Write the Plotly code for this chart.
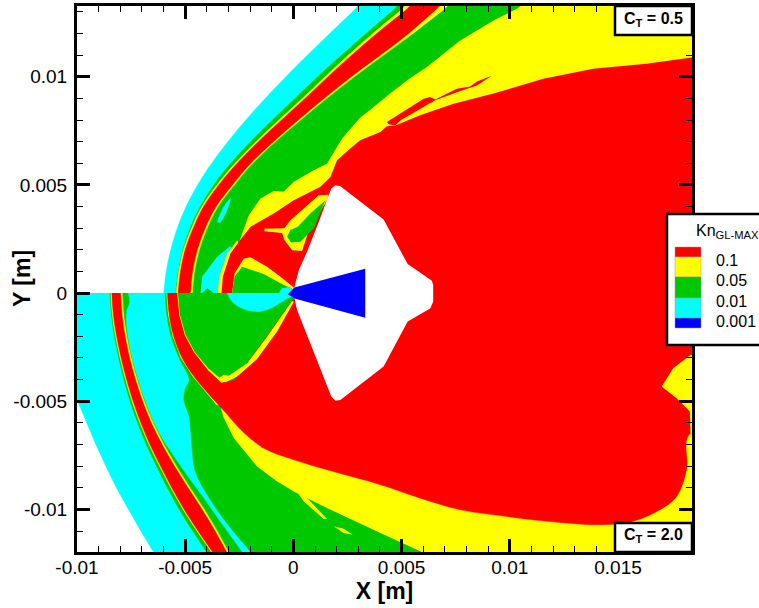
import plotly.graph_objects as go

RED, YELLOW, GREEN, CYAN, BLUE, WHITE = "#FF0000", "#FFFF00", "#00C800", "#00FFFF", "#0000FF", "#FFFFFF"

# All region outlines are in millimetres (x, y).
# ---- Upper half (C_T = 0.5) : bow shock bands, read at each millimetre of y
u_levels = [0, 1, 2, 3, 4, 5, 6, 7, 8, 9, 10, 11, 12, 13, 14]
u_cyan_x = [-5.99, -5.88, -5.67, -5.37, -4.96, -4.43, -3.78, -3.03, -2.20, -1.30, -0.35, 0.65, 1.68, 2.73, 3.80]
u_green_x = [-5.43, -5.32, -5.10, -4.77, -4.30, -3.68, -2.90, -1.98, -0.97, 0.08, 1.12, 2.23, 3.36, 4.53, 5.70]
u_yel1_x = [-5.41, -5.30, -5.08, -4.71, -4.23, -3.54, -2.70, -1.73, -0.67, 0.42, 1.46, 2.54, 3.67, 4.88, 6.10]
u_red_x = [-5.33, -5.22, -5.00, -4.63, -4.15, -3.45, -2.60, -1.62, -0.55, 0.55, 1.60, 2.70, 3.85, 5.10, 6.35]
u_yel2_x = [-4.74, -4.64, -4.42, -4.06, -3.55, -2.80, -1.95, -0.90, 0.25, 1.45, 2.70, 4.05, 5.35, 6.50, 7.70]
u_green2_x = [-4.65, -4.55, -4.33, -3.97, -3.46, -2.71, -1.86, -0.81, 0.36, 1.57, 2.84, 4.20, 5.55, 6.85, 8.10]

u_yellow_x = [11.09, 10.32, 9.25, 7.71, 6.17, 5.39, 4.47, 3.54, 3.09, 2.25, 1.55, 0.94, 0.02, -0.45, -0.91, -1.52, -2.06, -2.37, -2.52, -2.2, 25, 25]
u_yellow_y = [13.68, 13.14, 12.6, 11.68, 10.45, 9.93, 9.23, 8.46, 8.11, 7.14, 5.98, 5.68, 5.14, 4.68, 4.72, 4.37, 3.6, 2.75, 2.29, 0, 0, 15]
u_sliver_x = [-3.52, -3.22, -2.91, -3.14, -3.40]
u_sliver_y = [3.29, 3.98, 4.37, 3.66, 3.25]
u_blob_x = [-4.29, -4.22, -3.52, -2.91, -2.86, -3.22, -3.45, -3.34, -3.68, -3.98, -4.22]
u_blob_y = [0, 0.75, 1.68, 2.17, 2.06, 1.37, 0.45, 0, 0, 0.22, 0]
u_thin_x = [-3.49, -3.43, -3.06, -2.6, -2.5, -3.3]
u_thin_y = [0, 0.75, 1.83, 2.43, 2.3, 0]
u_main_x = [-3.32, -3.26, -2.91, -2.52, -1.98, -0.91, 0.02, 1.25, 1.71, 2.02, 2.63, 3.09, 4.02, 4.32, 4.71, 5.86, 7.40, 9.25, 11.55, 13.86, 16.32, 18.32, 19.4, 25, 25]
u_main_y = [0, 0.75, 1.83, 2.37, 3.06, 3.68, 4.29, 4.91, 5.37, 6.14, 6.68, 7.06, 7.45, 7.71, 7.75, 8.22, 8.75, 9.22, 9.91, 10.37, 10.6, 10.88, 10.98, 11, 0]
u_strip_x = [4.32, 6.02, 6.32, 6.55, 7.55, 8.17, 8.48, 9.17, 8.48, 7.71, 6.55, 4.94, 4.71, 4.4]
u_strip_y = [7.91, 8.98, 9.06, 8.95, 9.45, 9.55, 9.78, 10.05, 9.6, 9.34, 8.91, 7.98, 7.75, 7.8]
u_cap_x = [-2.83, -2.72, -2.29, -1.98, -1.22, -0.6, 0.02, 0.02]
u_cap_y = [0, 0.91, 1.6, 1.65, 1.22, 0.75, 0.26, 0]
u_lobe_x = [-2.83, -2.72, -2.37, -1.37, -0.6, -0.06, -0.06]
u_lobe_y = [0, 0.75, 1.22, 0.88, 0.45, 0.2, 0]
u_nose_x = [-0.68, -0.52, -0.14, 0.02]
u_nose_y = [0, 0.22, 0.29, 0.02]
u_isle_x = [-1.34, -0.42, -0.14, 0.48, 1.17, 1.63, 1.55, 0.71, 0.4, -0.06, -0.42, -0.52, -1.34]
u_isle_y = [2.97, 3.0, 3.37, 3.91, 4.52, 4.55, 4.29, 2.88, 1.95, 1.98, 2.45, 2.78, 2.86]
u_islegreen_x = [-0.29, -0.14, 0.2, 0.78, 1.48, 0.94, 0.32, -0.11]
u_islegreen_y = [2.6, 2.91, 3.06, 3.68, 4.29, 2.98, 2.37, 2.34]

# ---- Lower half (C_T = 2.0)
l_levels = [0, -1, -2, -3, -4, -5, -6, -7, -8, -9, -10, -11, -12, -13, -14]
l_edge_x = [-11.5, -11.2, -10.72, -10.38, -9.97, -9.55, -9.13, -8.67, -8.18, -7.62, -7.05, -6.45, -5.85, -5.2, 25, 25]
l_edge_y = [0, -2, -3, -4, -5, -6, -7, -8, -9, -10, -11, -12, -13, -14, -14.5, 0]
l_green_x = [-8.48, -8.41, -8.27, -8.07, -7.83, -7.55, -7.2, -6.8, -6.33, -5.83, -5.28, -4.66, -3.99, -3.3, -2.6]
l_yel1_x = [-8.44, -8.37, -8.22, -8.01, -7.76, -7.46, -7.1, -6.68, -6.19, -5.67, -5.1, -4.46, -3.77, -3.08, -2.38]
l_red_x = [-8.39, -8.32, -8.17, -7.96, -7.71, -7.41, -7.05, -6.63, -6.14, -5.62, -5.05, -4.41, -3.72, -3.03, -2.33]
l_yel2_x = [-7.97, -7.9, -7.76, -7.55, -7.28, -6.95, -6.55, -6.05, -5.48, -4.85, -4.2, -3.6, -3.05, -2.45, -1.85]
l_green2_x = [-7.89, -7.82, -7.68, -7.47, -7.2, -6.87, -6.46, -5.96, -5.39, -4.76, -4.1, -3.5, -2.96, -2.35, -1.75]
l_cyan2_x = [-7.64, -7.56, -7.71, -7.71, -7.56, -7.32, -7.02, -6.65, -6.18, -5.55, -4.85, -4.12, -3.42, -2.7, -1.98, -1.25]
l_cyan2_y = [0, -0.4, -0.86, -1.48, -2.5, -3.5, -4.5, -5.5, -6.5, -7.5, -8.5, -9.5, -10.5, -11.5, -12.5, -13.5]
l_body_x = [-5.93, -5.85, -5.66, -5.28, -4.82, -5.02, -5.05, -4.86, -4.79, -4.69, -4.54, -3.85, -2.85, -2.0, -0.15, 25, 25]
l_body_y = [0, -1, -2, -3, -4.02, -4.48, -5.02, -5.56, -5.94, -7.08, -8.24, -9.54, -10.93, -11.93, -14.2, -14.5, 0]
l_yband_x = [-3.5, -3.37, -3.22, -2.75, -1.68, -0.75, 0.02, 1.55, 4.02, 5.86, 6.63, 25, 25]
l_yband_y = [-5.14, -5.25, -5.78, -6.71, -8.02, -8.71, -9.17, -9.94, -11.09, -11.94, -12.4, -12.4, -5]
l_line_x = [-5.87, -5.79, -5.58, -5.2, -4.66, -3.99, -3.55, -3.4, -5.7]
l_line_y = [0, -1, -2, -3, -3.85, -4.64, -5.17, -5.2, 0]
l_main_x = [-5.82, -5.74, -5.53, -5.14, -4.6, -3.94, -3.49, -3.12, -2.35, -1.37, 0.02, 1.55, 4.02, 5.86, 7.71, 9.25, 11.71, 14.17, 15.71, 16.94, 17.71, 18.17, 18.35, 25, 25]
l_main_y = [0, -1, -2, -3, -3.85, -4.64, -5.14, -5.55, -6.4, -7.17, -7.71, -8.17, -8.86, -9.48, -10.02, -10.25, -10.55, -10.71, -10.55, -10.02, -9.4, -8.17, -6.48, -6.4, 0]
l_notch_x = [-1.68, -1.37, -1.45]
l_notch_y = [-6.78, -7.09, -7.17]
l_rim_x = [-5.37, -5.27, -5.02, -4.6, -3.94, -3.32, -3.0, -3.0]
l_rim_y = [0, -1.02, -1.94, -2.72, -3.57, -4.16, -4.0, 0]
l_lobe_x = [-5.34, -5.24, -4.98, -4.56, -3.94, -3.22, -2.75, -1.52, 0.02, 0.02]
l_lobe_y = [0, -1.02, -1.94, -2.72, -3.48, -4.09, -4.02, -2.4, -0.25, 0]
l_edgeyel_x = [-3.45, -3.22, -2.98, -2.14, -1.22, -0.06, 0.02, -0.75, -1.68, -2.6, -3.14, -3.32]
l_edgeyel_y = [-3.94, -3.78, -3.82, -3.25, -2.02, -0.37, -0.4, -1.78, -3.05, -3.86, -4.12, -4.09]
l_blob_x = [-3.06, -2.83, -2.29, -1.68, -1.06, -0.29, 0.02, 0.02]
l_blob_y = [0, -0.4, -0.74, -0.86, -0.71, -0.25, -0.09, 0]
l_fleck_x = [0.02, 0.71, 1.55, 1.4, 0.48]
l_fleck_y = [-8.98, -9.55, -10.45, -10.45, -9.63]
l_oval_x = [1.86, 2.32, 2.75, 2.32]
l_oval_y = [-10.78, -10.89, -11.17, -11.09]
l_patch_x = [18.35, 17.55, 17.02, 17.71, 18.32, 18.35, 25, 25]
l_patch_y = [-2.86, -3.48, -4.32, -4.86, -5.48, -6.48, -6.48, -2.8]

# ---- Vehicle
hull_x = [0.05, 0.25, 0.63, 1.17, 1.75, 1.94, 2.17, 4.17, 5.28, 6.4, 6.46, 6.46, 6.32, 5.28, 4.17, 2.17, 1.94, 1.75, 0.17, 0.05]
hull_y = [0.29, 1.06, 1.91, 3.29, 4.83, 4.98, 4.94, 3.4, 1.34, 0.57, 0.37, -0.4, -0.71, -1.32, -3.4, -4.94, -4.98, -4.78, -0.78, -0.25]
cone_x = [-0.26, 0.05, 3.32, 3.32, 0.05]
cone_y = [-0.05, 0.26, 1.12, -1.14, -0.25]

tick_vals_x = [-0.01, -0.005, 0, 0.005, 0.01, 0.015]
tick_text_x = ["-0.01", "-0.005", "0", "0.005", "0.01", "0.015"]
tick_vals_y = [-0.01, -0.005, 0, 0.005, 0.01]
tick_text_y = ["-0.01", "-0.005", "0", "0.005", "0.01"]
legend_labels = ["0.1", "0.05", "0.01", "0.001"]

M = 0.001
fig = go.Figure()


def region(xs, ys, color, smooth=False):
    fig.add_trace(go.Scatter(
        x=[v * M for v in xs], y=[v * M for v in ys], mode="lines", fill="toself",
        fillcolor=color,
        line=dict(width=0.4 if smooth else 0, color=color, shape="spline" if smooth else "linear",
                  smoothing=1.0 if smooth else None, simplify=False),
        hoverinfo="skip", showlegend=False))


def upper_band(xs, color):
    region(xs + [25, 25], u_levels + [15, 0], color, True)


def lower_band(xs, color):
    region(xs + [25, 25], l_levels + [-14.5, 0], color, True)


# upper half, outside in
upper_band(u_cyan_x, CYAN)
upper_band(u_green_x, GREEN)
upper_band(u_yel1_x, YELLOW)
upper_band(u_red_x, RED)
upper_band(u_yel2_x, YELLOW)
upper_band(u_green2_x, GREEN)
region(u_yellow_x, u_yellow_y, YELLOW)
region(u_sliver_x, u_sliver_y, CYAN, True)
region(u_blob_x, u_blob_y, CYAN)
region(u_thin_x, u_thin_y, YELLOW)
region(u_main_x, u_main_y, RED)
region(u_strip_x, u_strip_y, RED)
region(u_cap_x, u_cap_y, YELLOW)
region(u_lobe_x, u_lobe_y, GREEN)
region(u_nose_x, u_nose_y, CYAN)
region(u_isle_x, u_isle_y, YELLOW)
region(u_islegreen_x, u_islegreen_y, GREEN)

# lower half, outside in
region(l_edge_x, l_edge_y, CYAN, True)
lower_band(l_green_x, GREEN)
lower_band(l_yel1_x, YELLOW)
lower_band(l_red_x, RED)
lower_band(l_yel2_x, YELLOW)
lower_band(l_green2_x, GREEN)
region(l_cyan2_x + [25, 25], l_cyan2_y + [-14.5, 0], CYAN, True)
region(l_body_x, l_body_y, GREEN, True)
region(l_yband_x, l_yband_y, YELLOW)
region(l_fleck_x, l_fleck_y, YELLOW)
region(l_oval_x, l_oval_y, YELLOW)
region(l_line_x, l_line_y, YELLOW)
region(l_main_x, l_main_y, RED, True)
region(l_notch_x, l_notch_y, RED)
region(l_patch_x, l_patch_y, YELLOW)
region(l_rim_x, l_rim_y, YELLOW)
region(l_lobe_x, l_lobe_y, GREEN)
region(l_edgeyel_x, l_edgeyel_y, YELLOW)
region(l_blob_x, l_blob_y, CYAN, True)

region(hull_x, hull_y, WHITE)
region(cone_x, cone_y, BLUE)

W, H = 759, 608
ML, MR, MT, MB = 77, 67, 6, 56
PW, PH = W - ML - MR, H - MT - MB


def fx(p):
    return (p - ML) / PW


def fy(p):
    return (H - MB - p) / PH


FONT = "Liberation Sans, Arial, sans-serif"
shapes, notes = [], []


def box(x0, y0, x1, y1, fill=WHITE, width=2.5, color="black"):
    shapes.append(dict(type="rect", xref="paper", yref="paper", layer="above",
                       x0=fx(x0), x1=fx(x1), y0=fy(y1), y1=fy(y0),
                       fillcolor=fill, line=dict(color=color, width=width)))


def note(text, x, y, size, anchor="center", bold=False, angle=0):
    notes.append(dict(text=text, xref="paper", yref="paper", textangle=angle,
                      x=fx(x), y=fy(y), xanchor=anchor, yanchor="middle", showarrow=False,
                      font=dict(family=FONT, size=size, color="black", weight="bold" if bold else "normal")))


box(615, 6, 692, 35)
box(615, 523, 692, 552)
note("C<sub>T</sub> = 0.5", 653.5, 19, 16, bold=True)
note("C<sub>T</sub> = 2.0", 653.5, 535, 16, bold=True)

box(667, 214, 790, 345)
note("Kn<sub>GL-MAX</sub>", 727, 232, 16)
for c, (a, b) in zip([RED, YELLOW, GREEN, CYAN, BLUE],
                     [(247, 257), (257, 277), (277, 298), (298, 318), (318, 328)]):
    box(675, a, 701, b, fill=c, width=0.5, color="#999999")
for lab, y in zip(legend_labels, [260, 280.5, 301, 321.5]):
    note(lab, 714, y, 16, anchor="left")
note("Y [m]", 22, 279, 23, bold=True, angle=-90)

axis = dict(showgrid=False, zeroline=False, showline=True, linecolor="black", linewidth=3,
            mirror="allticks", ticks="inside", ticklen=13, tickwidth=2.5, tickcolor="black",
            tickfont=dict(family=FONT, size=19, color="black"), tickmode="array",
            minor=dict(ticks="inside", ticklen=6, tickwidth=1.2, tickcolor="black", dtick=0.001, showgrid=False))
fig.update_layout(
    width=W, height=H, margin=dict(l=ML, r=MR, t=MT, b=MB, autoexpand=False),
    paper_bgcolor="white", plot_bgcolor="white", showlegend=False,
    xaxis=dict(axis, range=[-0.01, 0.01842], tickvals=tick_vals_x, ticktext=tick_text_x, ticklabelstandoff=-4,
               title=dict(text="X [m]", font=dict(family=FONT, size=23, color="black", weight="bold"), standoff=2)),
    yaxis=dict(axis, range=[-0.01197, 0.01327], tickvals=tick_vals_y, ticktext=tick_text_y, ticklabelstandoff=3),
    shapes=shapes, annotations=notes)
fig.write_html("out.html", config=dict(displayModeBar=False),
               post_script="document.body.style.margin='0';document.body.style.overflow='hidden';")
